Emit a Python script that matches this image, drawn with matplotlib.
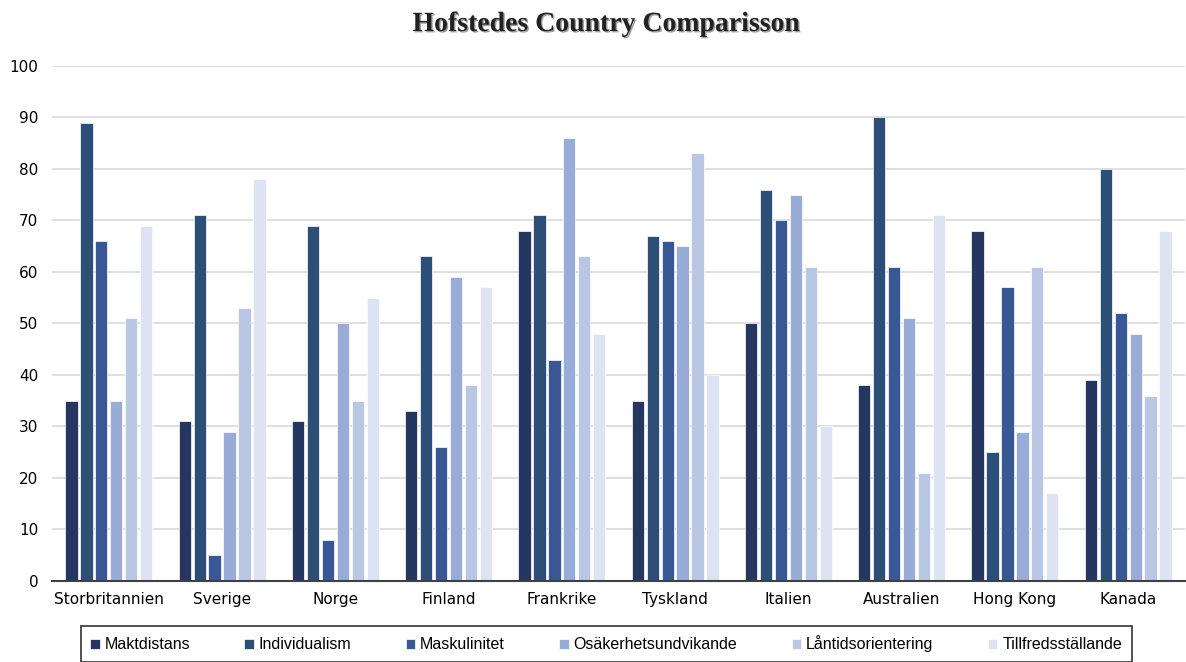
import numpy as np
import matplotlib.pyplot as plt
import matplotlib.patheffects as pe

countries = ['Storbritannien', 'Sverige', 'Norge', 'Finland', 'Frankrike',
             'Tyskland', 'Italien', 'Australien', 'Hong Kong', 'Kanada']
dimensions = ['Maktdistans', 'Individualism', 'Maskulinitet',
              'Osäkerhetsundvikande', 'Låntidsorientering', 'Tillfredsställande']

maktdistans = [35, 31, 31, 33, 68, 35, 50, 38, 68, 39]
individualism = [89, 71, 69, 63, 71, 67, 76, 90, 25, 80]
maskulinitet = [66, 5, 8, 26, 43, 66, 70, 61, 57, 52]
osakerhet = [35, 29, 50, 59, 86, 65, 75, 51, 29, 48]
langtid = [51, 53, 35, 38, 63, 83, 61, 21, 61, 36]
tillfreds = [69, 78, 55, 57, 48, 40, 30, 71, 17, 68]

series = [maktdistans, individualism, maskulinitet, osakerhet, langtid, tillfreds]
colors = ['#253760', '#2d4f77', '#3a5795', '#99acd8', '#b9c6e4', '#dde3f3']

fig = plt.figure(figsize=(11.86, 6.62), dpi=100)
ax = fig.add_axes([0.044, 0.1224, 0.955, 0.778])

x = np.arange(len(countries))
step = 0.132
width = 0.108
for i, (vals, col) in enumerate(zip(series, colors)):
    ax.bar(x + (i - 2.5) * step, vals, width, color=col, edgecolor='white',
           linewidth=0.5, label=dimensions[i], zorder=3)

ax.set_xlim(-0.5, len(countries) - 0.5)
ax.set_ylim(0, 100)
ax.set_yticks(range(0, 101, 10))
ax.set_xticks(x)
ax.set_xticklabels(countries, fontsize=11)
ax.tick_params(axis='y', labelsize=11, length=0, pad=10)
ax.tick_params(axis='x', length=0, pad=8)
ax.grid(axis='y', color='#d9d9d9', linewidth=1.2, zorder=0)
for s in ['top', 'right', 'left']:
    ax.spines[s].set_visible(False)
ax.spines['bottom'].set_color('#404040')
ax.spines['bottom'].set_linewidth(1.5)
ax.spines['bottom'].set_zorder(4)

title = fig.text(0.511, 0.963, 'Hofstedes Country Comparisson', ha='center', va='center',
                 fontsize=20, fontweight='bold', family='Liberation Serif', color='#222222')
title.set_path_effects([pe.withSimplePatchShadow(offset=(1, -1), shadow_rgbFace='#888888', alpha=0.8)])

leg = fig.legend(loc='lower center', bbox_to_anchor=(0.511, -0.012), ncol=6,
                 frameon=True, fancybox=False, edgecolor='black',
                 handlelength=0.6, handleheight=0.6, handletextpad=0.3,
                 columnspacing=3.4, borderpad=0.6,
                 prop={'family': ['Liberation Sans', 'DejaVu Sans'], 'size': 11.5})
leg.get_frame().set_linewidth(1.2)

fig.savefig('out.png', dpi=100)
